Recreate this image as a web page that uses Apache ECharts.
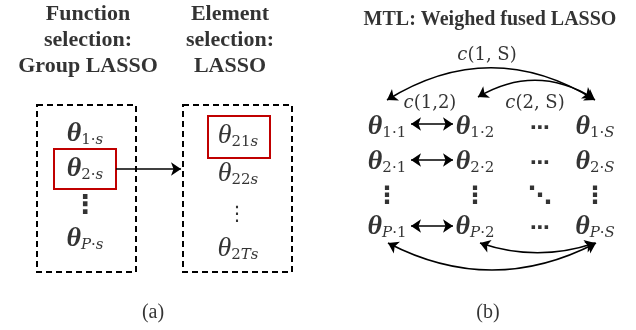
<!DOCTYPE html>
<html><head><meta charset="utf-8">
<script src="https://cdn.jsdelivr.net/npm/echarts@6/dist/echarts.min.js"></script>
<style>html,body{margin:0;padding:0;background:#fff}#c{width:636px;height:330px}</style>
</head><body><div id="c"></div>
<script>
// ---- diagram content (positions in diagram units = px of a 636x330 canvas) ----
const titleA1 = ['Function', 'selection:', 'Group LASSO'];
const titleA2 = ['Element', 'selection:', 'LASSO'];
const titleB = 'MTL: Weighed fused LASSO';
const panelLabels = [['(a)', 153, 313], ['(b)', 488, 313]];
const titleRowsY = [14, 40, 66];
const titleColsX = [88, 230];

// panel (a) parameter nodes: [subscript, x, y, bold]
const groupNodes = [['1·s', 85, 134, true], ['2·s', 85, 169, true], ['P·s', 85, 239, true]];
const elementNodes = [['21s', 238, 136, false], ['22s', 238, 174, false], ['2Ts', 238, 249, false]];
// panel (b) matrix
const rowIdx = ['1', '2', null, 'P'];
const colIdx = ['1', '2', null, 'S'];
const colX = [387, 475, 540, 595];
const rowY = [127, 162, 197, 227];
// dots glyphs: [glyph, x, y, size, bold]
const dotGlyphs = [['⋮', 85, 206, 26, true], ['⋮', 237, 215, 20, false]];
// edge labels
const edgeLabels = [['c(1, S)', 487, 55], ['c(1,2)', 430, 103], ['c(2, S)', 535, 103]];
// boxes [x1,y1,x2,y2]
const dashedBoxes = [[37, 105, 136, 272], [183, 105, 292, 272]];
const redBoxes = [[54, 149, 116, 189], [208, 116, 270, 158]];
// edges: [x1,y1,x2,y2,curveness,startArrow,endArrow]
const edges = [
  [116, 169, 181, 169, 0, false, true],
  [411, 124, 453, 124, 0, true, true],
  [411, 160, 453, 160, 0, true, true],
  [411, 226, 453, 226, 0, true, true],
  [387, 100, 595, 100, 0.31, true, true],
  [478, 97, 593, 98, 0.3, true, true],
  [388, 243, 596, 243, -0.26, true, true],
  [480, 243, 595, 243, -0.17, true, true]
];

// ---- build ----
const serif = 'Liberation Serif';
const rich = {
  tb: {fontFamily: serif, fontWeight: 'bold', fontStyle: 'italic', fontSize: 28, color: '#000', verticalAlign: 'top', lineHeight: 28},
  tr: {fontFamily: serif, fontStyle: 'italic', fontSize: 28, color: '#000', verticalAlign: 'top', lineHeight: 28},
  su: {fontFamily: 'DejaVu Serif', fontSize: 15, color: '#000', verticalAlign: 'bottom', lineHeight: 16, padding: [14, 0, 0, 0]},
  si: {fontFamily: 'DejaVu Serif', fontStyle: 'italic', fontSize: 15, color: '#000', verticalAlign: 'bottom', lineHeight: 16, padding: [14, 0, 0, 0]}
};
function thetaLabel(sub, bold) {
  let out = '{' + (bold ? 'tb' : 'tr') + '|θ}';
  for (const ch of sub) {
    out += '{' + (/[A-Za-z]/.test(ch) ? 'si' : 'su') + '|' + ch + '}';
  }
  return out;
}
const textPts = [];
titleA1.forEach((t, i) => textPts.push({value: [titleColsX[0], titleRowsY[i]], txt: t, kind: 'title'}));
titleA2.forEach((t, i) => textPts.push({value: [titleColsX[1], titleRowsY[i]], txt: t, kind: 'title'}));
textPts.push({value: [490, 20], txt: titleB, kind: 'titleB'});
panelLabels.forEach(p => textPts.push({value: [p[1], p[2]], txt: p[0], kind: 'panel'}));
groupNodes.forEach(n => textPts.push({value: [n[1], n[2]], txt: thetaLabel(n[0], n[3]), kind: 'math'}));
elementNodes.forEach(n => textPts.push({value: [n[1], n[2]], txt: thetaLabel(n[0], n[3]), kind: 'math'}));
rowIdx.forEach((r, i) => colIdx.forEach((c, j) => {
  let txt, kind = 'math';
  if (r && c) txt = thetaLabel(r + '·' + c, true);
  else if (r && !c) { txt = '⋯'; kind = 'hdots'; }
  else if (!r && c) { txt = '⋮'; kind = 'vdots'; }
  else { txt = '⋱'; kind = 'ddots'; }
  textPts.push({value: [colX[j], rowY[i] + (kind === 'hdots' ? 2 : 0)], txt, kind});
}));
dotGlyphs.forEach(d => textPts.push({value: [d[1], d[2]], txt: d[0], kind: 'glyph', size: d[3], bold: d[4]}));
edgeLabels.forEach(e => textPts.push({value: [e[1], e[2]], txt: e[0], kind: 'edge'}));

function styleFor(p) {
  const base = {show: true, position: 'inside', color: '#000'};
  switch (p.kind) {
    case 'title': return Object.assign(base, {fontFamily: serif, fontWeight: 'bold', fontSize: 22, formatter: p.txt});
    case 'titleB': return Object.assign(base, {fontFamily: serif, fontWeight: 'bold', fontSize: 20, formatter: p.txt});
    case 'panel': return Object.assign(base, {fontFamily: serif, fontSize: 20, formatter: p.txt});
    case 'math': return Object.assign(base, {formatter: p.txt, rich});
    case 'hdots': return Object.assign(base, {fontFamily: 'DejaVu Sans', fontWeight: 'bold', fontSize: 20, formatter: p.txt});
    case 'vdots':
    case 'ddots': return Object.assign(base, {fontFamily: 'DejaVu Sans', fontWeight: 'bold', fontSize: 24, formatter: p.txt});
    case 'glyph': return Object.assign(base, {fontFamily: 'DejaVu Sans', fontWeight: p.bold ? 'bold' : 'normal', fontSize: p.size, formatter: p.txt});
    case 'edge': return Object.assign(base, {fontFamily: 'DejaVu Serif', fontSize: 18, formatter: '{i|c}{n|' + p.txt.slice(1) + '}',
      rich: {i: {fontFamily: 'DejaVu Serif', fontStyle: 'italic', fontSize: 18, color: '#000'}, n: {fontFamily: 'DejaVu Serif', fontSize: 18, color: '#000'}}});
  }
}
const scatterData = textPts.map(p => ({value: p.value, label: styleFor(p)}));

const boxData = dashedBoxes.map(b => ({value: b, dashed: true})).concat(redBoxes.map(b => ({value: b, dashed: false})));
const linesData = edges.map(e => ({
  coords: [[e[0], e[1]], [e[2], e[3]]],
  symbol: [e[5] ? 'arrow' : 'none', e[6] ? 'arrow' : 'none'],
  lineStyle: {curveness: e[4]}
}));

const chart = echarts.init(document.getElementById('c'), null, {renderer: 'canvas'});
chart.setOption({
  animation: false,
  backgroundColor: '#fff',
  grid: {left: 0, right: 0, top: 0, bottom: 0},
  xAxis: {type: 'value', min: 0, max: 636, show: false},
  yAxis: {type: 'value', min: 0, max: 330, inverse: true, show: false},
  series: [
    {
      type: 'custom',
      renderItem: function (params, api) {
        const p1 = api.coord([api.value(0), api.value(1)]);
        const p2 = api.coord([api.value(2), api.value(3)]);
        const dashed = boxData[params.dataIndex].dashed;
        return {
          type: 'rect',
          shape: {x: p1[0], y: p1[1], width: p2[0] - p1[0], height: p2[1] - p1[1]},
          style: {fill: 'none', stroke: dashed ? '#000' : '#c00000', lineWidth: 2, lineDash: dashed ? [6, 4] : null}
        };
      },
      data: boxData.map(b => b.value),
      z: 1
    },
    {
      type: 'lines',
      coordinateSystem: 'cartesian2d',
      symbolSize: 10,
      lineStyle: {color: '#000', width: 1.6, opacity: 1},
      data: linesData,
      z: 2
    },
    {
      type: 'scatter',
      symbolSize: 2,
      itemStyle: {color: 'rgba(255,255,255,0)'},
      data: scatterData,
      z: 3
    }
  ]
});
</script></body></html>
